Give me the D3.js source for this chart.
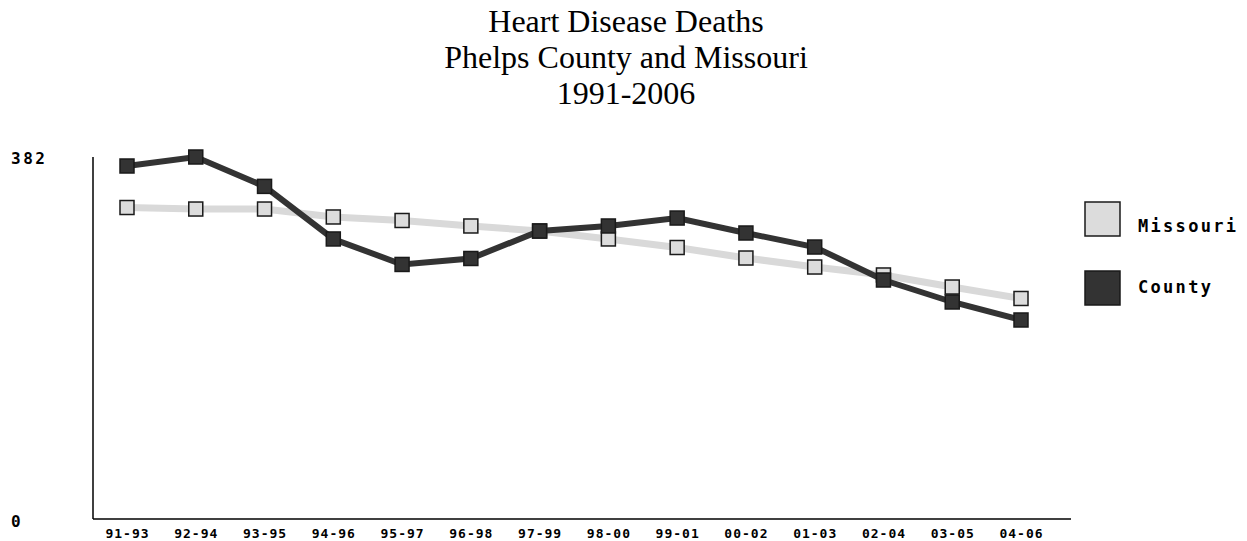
<!DOCTYPE html>
<html>
<head>
<meta charset="utf-8">
<script src="https://cdn.jsdelivr.net/npm/d3@7"></script>
<style>
  body { margin: 0; background: #fff; }
  svg { display: block; }
</style>
</head>
<body>
<div id="chart"></div>
<script>
// chart data
const periods = ["91-93", "92-94", "93-95", "94-96", "95-97", "96-98", "97-99",
                 "98-00", "99-01", "00-02", "01-03", "02-04", "03-05", "04-06"];
const missouri = [328.7, 327.1, 327.1, 318.7, 315.0, 309.2, 303.9,
                  295.5, 286.5, 275.4, 265.9, 257.5, 244.8, 232.7];
const county = [372.5, 382.0, 351.0, 295.5, 268.6, 274.9, 303.9,
                309.2, 317.6, 301.8, 287.0, 252.2, 229.0, 210.0];
const yTicks = [0, 382];
const titleLines = ["Heart Disease Deaths", "Phelps County and Missouri", "1991-2006"];
const seriesNames = ["Missouri", "County"];

document.addEventListener('DOMContentLoaded', function() {
  const width = 1247;
  const height = 541;
  const axisLeftX = 93, axisRightX = 1071, axisTop = 157, axisBottom = 519;

  const svg = d3.select('#chart')
    .append("svg")
    .attr("width", width)
    .attr("height", height);

  // title
  svg.append("g").selectAll("text")
    .data(titleLines)
    .enter()
    .append("text")
    .attr("x", 626)
    .attr("y", (d, i) => 32 + i * 36)
    .attr("text-anchor", "middle")
    .style("font-family", "'Liberation Serif', 'Times New Roman', serif")
    .style("font-size", "32px")
    .attr("fill", "#000")
    .text(d => d);

  const xScale = d3.scalePoint()
    .domain(periods)
    .range([127, 1021]);

  const yScale = d3.scaleLinear()
    .domain([0, 382])
    .range([axisBottom, axisTop]);

  const pixelFont = "'DejaVu Sans Mono', 'Liberation Mono', monospace";

  // axis lines
  svg.append("line")
    .attr("x1", axisLeftX).attr("x2", axisLeftX)
    .attr("y1", axisTop).attr("y2", axisBottom)
    .attr("stroke", "#000").attr("stroke-width", 1.5);
  svg.append("line")
    .attr("x1", axisLeftX).attr("x2", axisRightX)
    .attr("y1", axisBottom).attr("y2", axisBottom)
    .attr("stroke", "#000").attr("stroke-width", 1.5);

  // x tick labels
  const xAxis = d3.axisBottom(xScale).tickSize(0).tickPadding(0);
  const gx = svg.append("g")
    .attr("transform", `translate(0,${axisBottom})`)
    .call(xAxis);
  gx.select(".domain").remove();
  gx.selectAll("text")
    .attr("dy", null)
    .attr("y", 19)
    .style("font-family", pixelFont)
    .style("font-size", "13px")
    .style("font-weight", "bold")
    .style("letter-spacing", "1px")
    .attr("fill", "#000");

  // y labels (only min and max)
  svg.append("g").selectAll("text")
    .data(yTicks)
    .enter()
    .append("text")
    .attr("x", 11)
    .attr("y", d => yScale(d) + (d ? 7 : 8))
    .style("font-family", pixelFont)
    .style("font-size", "16px")
    .style("font-weight", "bold")
    .style("letter-spacing", "2.5px")
    .attr("fill", "#000")
    .text(d => d);

  const line = d3.line()
    .x((d, i) => xScale(periods[i]))
    .y(d => yScale(d));

  const series = [
    { name: seriesNames[0], values: missouri, lineColor: "#d9d9d9", lineWidth: 7, fill: "#dcdcdc" },
    { name: seriesNames[1], values: county, lineColor: "#333333", lineWidth: 6, fill: "#333333" }
  ];

  series.forEach(s => {
    svg.append("path")
      .datum(s.values)
      .attr("d", line)
      .attr("fill", "none")
      .attr("stroke", s.lineColor)
      .attr("stroke-width", s.lineWidth)
      .attr("stroke-linejoin", "miter");

    svg.append("g").selectAll("rect")
      .data(s.values)
      .enter()
      .append("rect")
      .attr("x", (d, i) => xScale(periods[i]) - 7)
      .attr("y", d => yScale(d) - 7)
      .attr("width", 14)
      .attr("height", 14)
      .attr("fill", s.fill)
      .attr("stroke", "#1a1a1a")
      .attr("stroke-width", 1.5);
  });

  // legend
  const legend = svg.append("g")
    .selectAll("g")
    .data(series)
    .enter()
    .append("g")
    .attr("transform", (d, i) => `translate(1085,${202 + i * 69})`);

  legend.append("rect")
    .attr("width", 35)
    .attr("height", 34)
    .attr("fill", d => d.fill)
    .attr("stroke", "#1a1a1a")
    .attr("stroke-width", 1.5);

  legend.append("text")
    .attr("x", 53)
    .attr("y", (d, i) => 30 - i * 8)
    .style("font-family", pixelFont)
    .style("font-size", "17px")
    .style("font-weight", "bold")
    .style("letter-spacing", "2.3px")
    .attr("fill", "#000")
    .text(d => d.name);
});
</script>
</body>
</html>
